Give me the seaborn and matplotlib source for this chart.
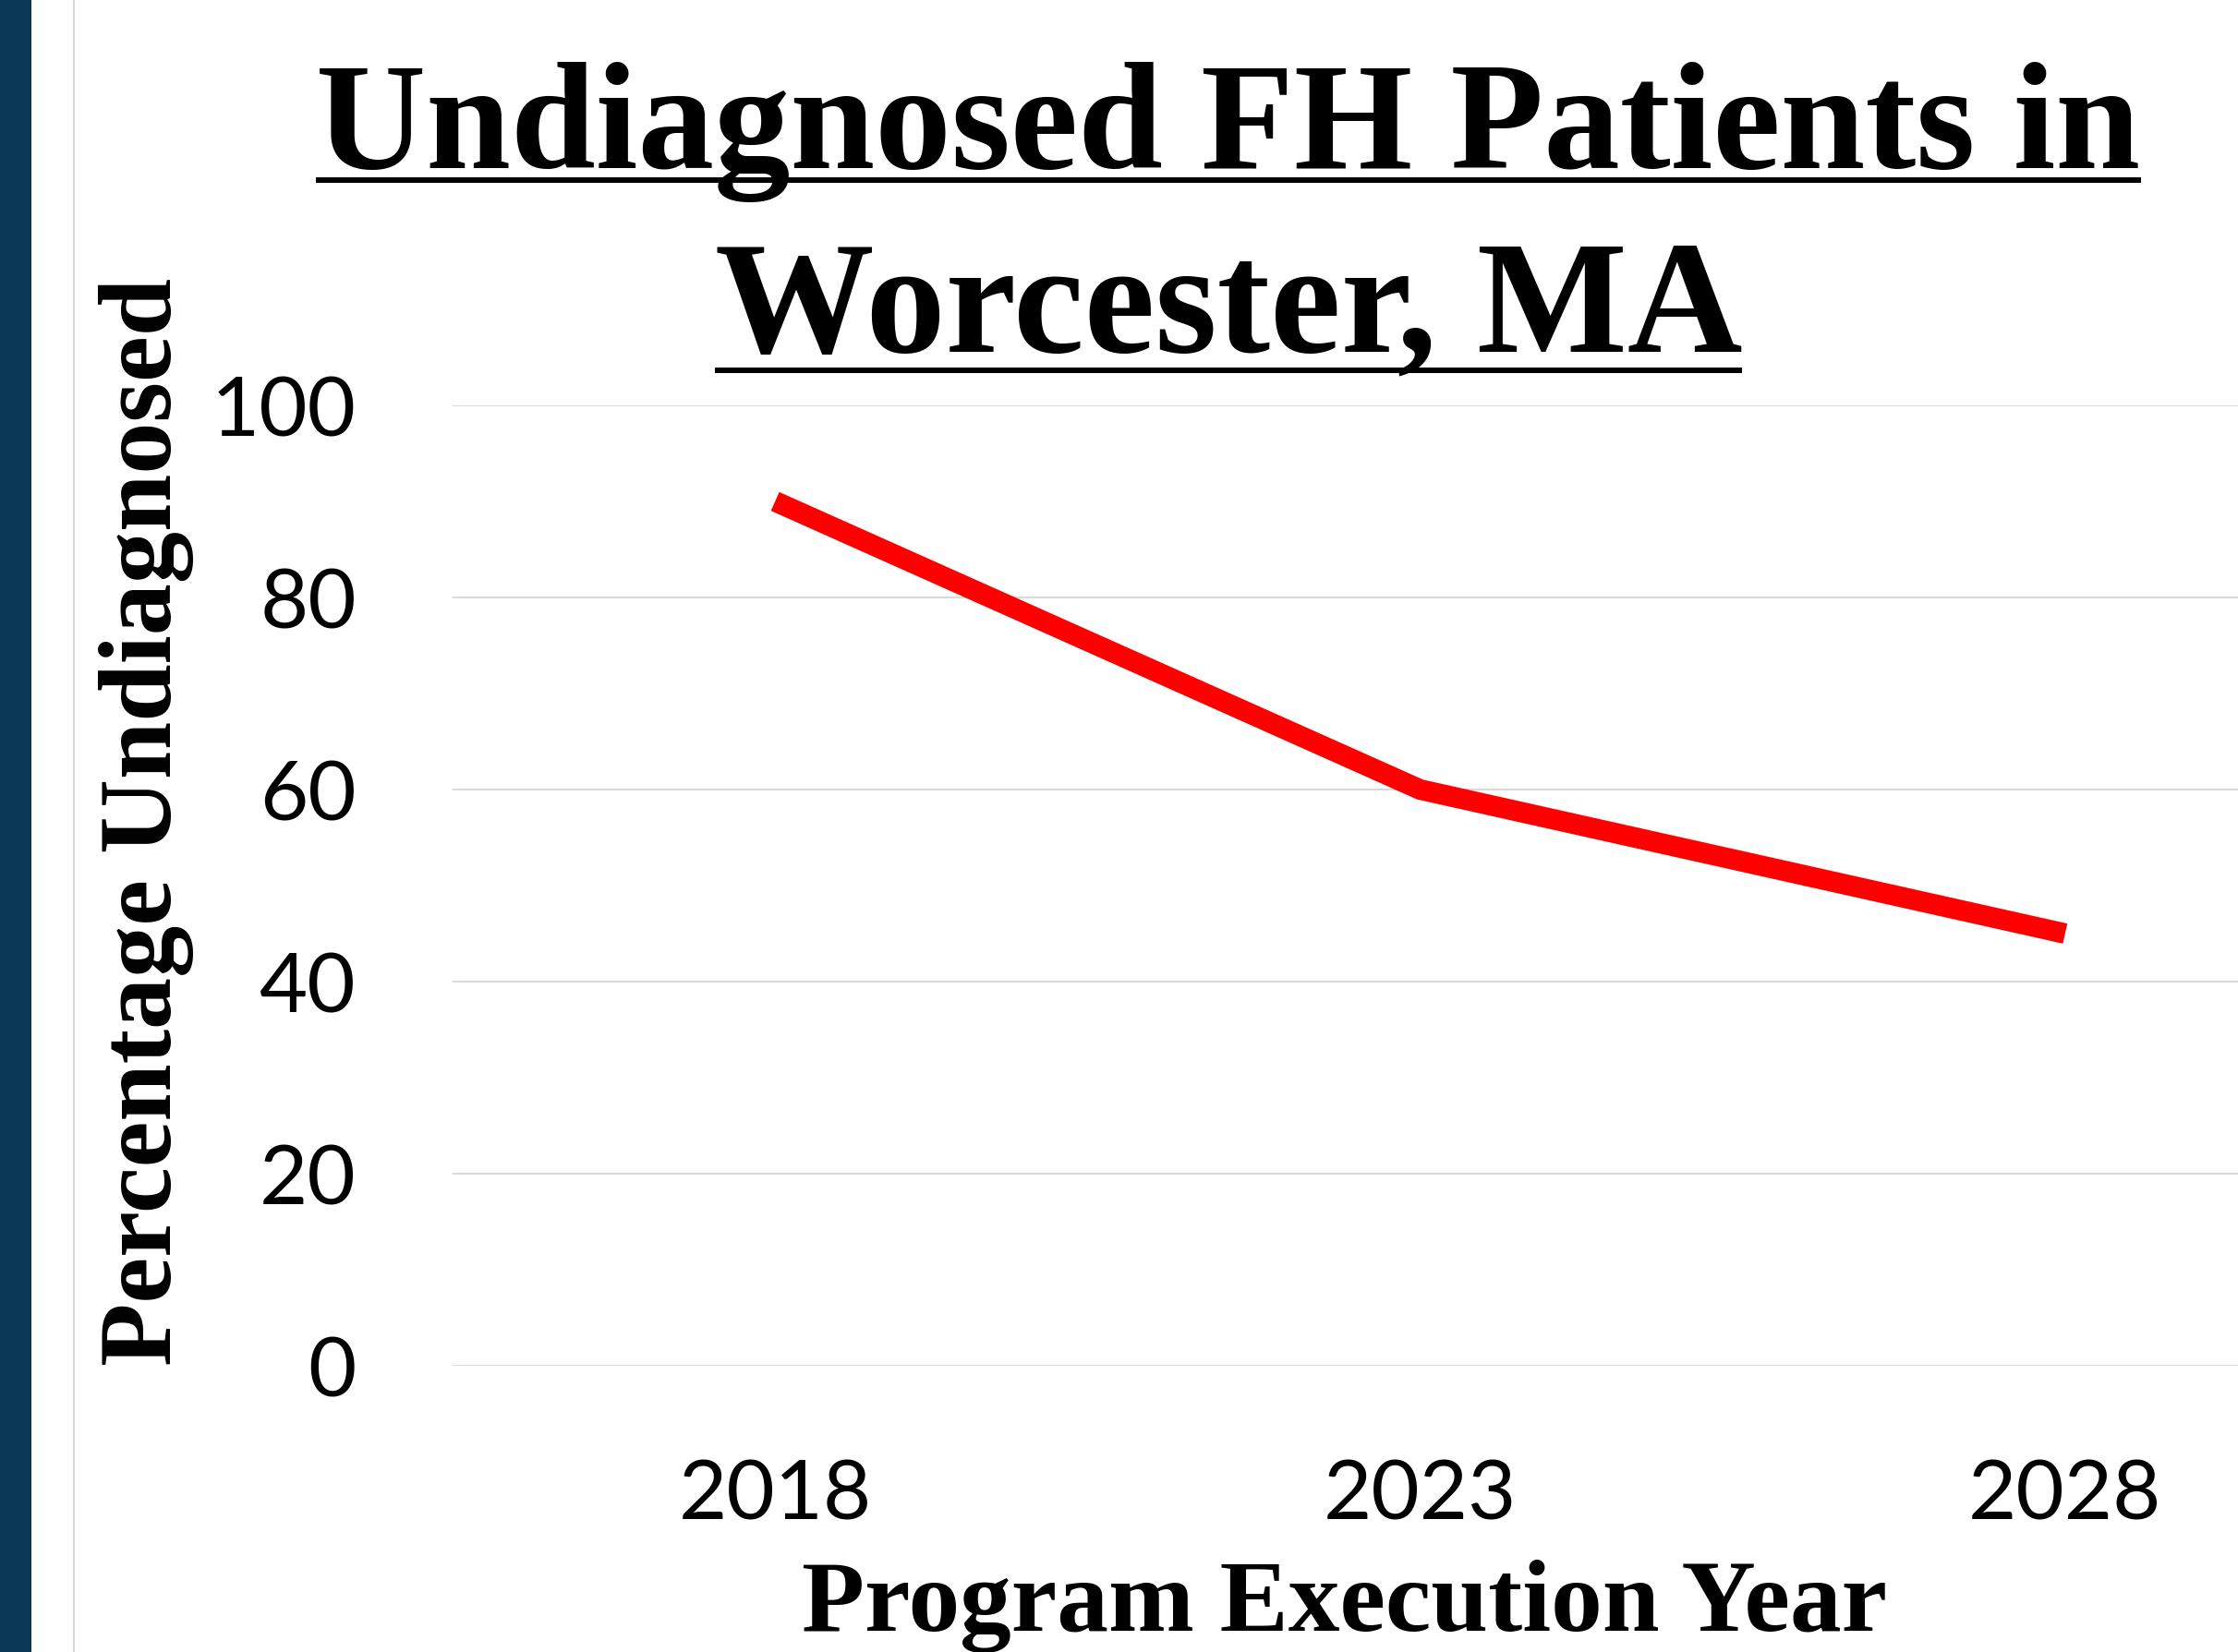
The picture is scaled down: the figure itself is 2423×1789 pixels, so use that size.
import matplotlib
matplotlib.use("Agg")
import matplotlib.pyplot as plt
import seaborn as sns
from matplotlib.lines import Line2D
from matplotlib.patches import Rectangle

# ---- data ----
years = ["2018", "2023", "2028"]
pct_undiagnosed = [90, 60, 45]
y_ticks = [0, 20, 40, 60, 80, 100]
title_line1 = "Undiagnosed FH Patients in"
title_line2 = "Worcester, MA"
x_label = "Program Execution Year"
y_label = "Percentage Undiagnosed"

sns.set_style("white")
plt.rcParams["font.family"] = ["Lato", "DejaVu Sans"]
plt.rcParams["text.color"] = "black"
plt.rcParams["axes.labelcolor"] = "black"
plt.rcParams["xtick.color"] = "black"
plt.rcParams["ytick.color"] = "black"

W, H = 2423, 1790
fig = plt.figure(figsize=(W / 100, H / 100), dpi=100)
fig.patch.set_facecolor("white")

def fx(px):
    return px / W

def fy(py_from_top):
    return 1 - py_from_top / H

# decorative left bar and thin divider
fig.add_artist(Rectangle((0, 0), fx(34), 1, transform=fig.transFigure,
                         color="#083854", lw=0, zorder=0))
fig.add_artist(Line2D([fx(80), fx(80)], [0, 1], transform=fig.transFigure,
                      color="#d9d9d9", lw=1.6))

# axes: left at 490px, right beyond edge; y 0 at 1480px, 100 at 440px
ax_left, ax_right = 490, 2585
ax_top, ax_bot = 440, 1480
ax = fig.add_axes([fx(ax_left), fy(ax_bot), (ax_right - ax_left) / W, (ax_bot - ax_top) / H])

sns.lineplot(x=years, y=pct_undiagnosed, ax=ax, color="#ff0000", linewidth=16,
             sort=False, solid_capstyle="butt", solid_joinstyle="miter")

ax.set_xlim(-0.5, 2.5)
ax.set_ylim(0, 100)
ax.set_yticks(y_ticks)
ax.grid(axis="y", color="#d9d9d9", lw=1.5)
ax.grid(axis="x", visible=False)
for s in ax.spines.values():
    s.set_visible(False)
ax.tick_params(axis="both", length=0, labelsize=66, labelcolor="black")
ax.tick_params(axis="y", pad=75)
ax.tick_params(axis="x", pad=72)
for lab in ax.get_xticklabels() + ax.get_yticklabels():
    lab.set_fontfamily(["Lato", "DejaVu Sans"])

serif = ["Liberation Serif", "DejaVu Serif"]
ax.set_xlabel(x_label, fontsize=77, fontweight="bold", family=serif, color="black")
ax.xaxis.set_label_coords((1456 - ax_left) / (ax_right - ax_left), -(1766 - ax_bot) / (ax_bot - ax_top))
ax.xaxis.label.set_va("baseline")
ax.set_ylabel(y_label, fontsize=77, fontweight="bold", family=serif, color="black")
ax.yaxis.set_label_coords((159 - ax_left) / (ax_right - ax_left), (ax_bot - 890) / (ax_bot - ax_top))
ax.yaxis.label.set_va("center")

t1 = fig.text(fx(1330), fy(182), title_line1, ha="center", va="baseline",
              fontsize=130, fontweight="bold", family=serif, color="black")
t2 = fig.text(fx(1330), fy(380), title_line2, ha="center", va="baseline",
              fontsize=130, fontweight="bold", family=serif, color="black")

# fit text sizes to the reference extents
fig.canvas.draw()
r = fig.canvas.get_renderer()

def fit(t, target, use_height=False):
    bb = t.get_window_extent(r)
    cur = bb.height if use_height else bb.width
    t.set_fontsize(t.get_fontsize() * target / cur)

fit(t1, 1975)
fit(t2, 1112)
fit(ax.xaxis.label, 1176)
fit(ax.yaxis.label, 1179, use_height=True)
xt = ax.get_xticklabels()
w = xt[0].get_window_extent(r).width
ax.tick_params(axis="both", labelsize=66 * 209 / w)
fig.canvas.draw()

# underlines for the title lines
for t, uy in ((t1, 196), (t2, 402)):
    bb = t.get_window_extent(r)
    fig.add_artist(Line2D([bb.x0 / W, bb.x1 / W], [fy(uy), fy(uy)],
                          transform=fig.transFigure, color="black", lw=4.3,
                          solid_capstyle="butt"))

fig.savefig("out.png", dpi=100)
